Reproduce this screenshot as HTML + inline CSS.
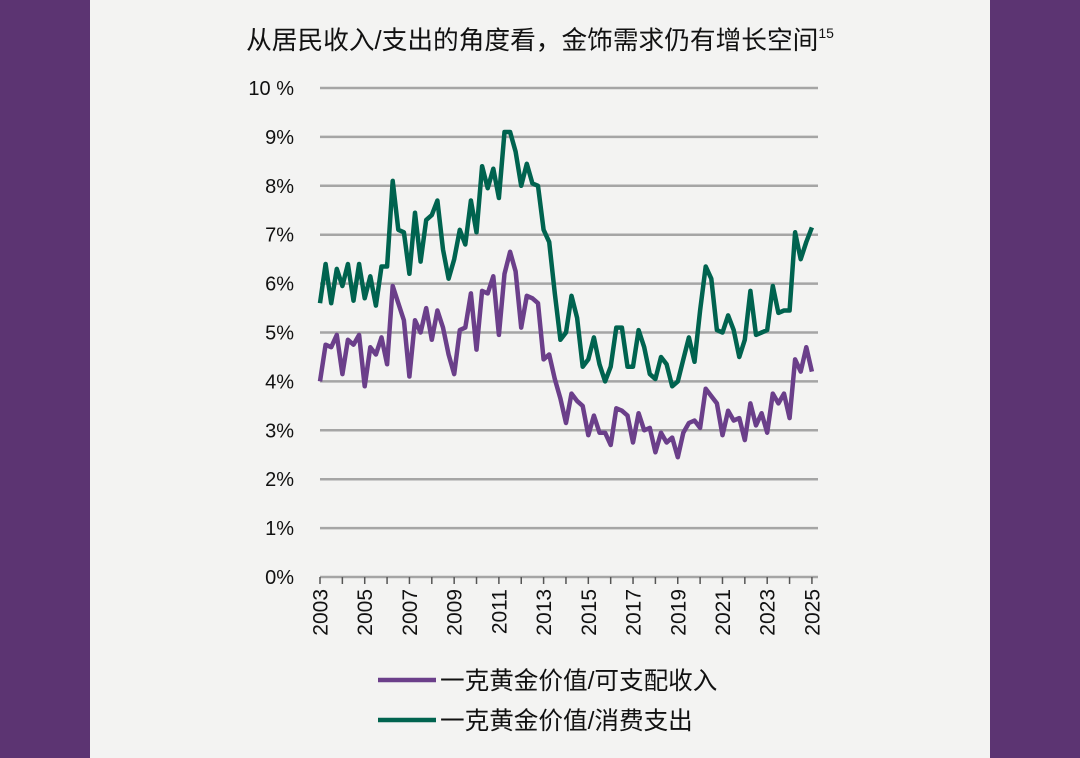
<!DOCTYPE html>
<html><head><meta charset="utf-8"><style>
html,body{margin:0;padding:0;}
body{width:1080px;height:758px;background:#5c3472;position:relative;overflow:hidden;font-family:"Liberation Sans","Noto Sans CJK SC",sans-serif;}
#panel{position:absolute;left:90px;top:0;width:900px;height:758px;background:#f3f3f2;}
</style></head><body>
<div id="panel"></div>
<svg id="chart" width="1080" height="758" style="position:absolute;left:0;top:0">
<text x="540" y="49" text-anchor="middle" font-size="25.7" fill="#111" font-family="Liberation Sans, Noto Sans CJK SC, sans-serif">从居民收入/支出的角度看，金饰需求仍有增长空间<tspan font-size="14" dy="-11">15</tspan></text>
<g id="grid"></g><g id="xaxis"></g><g id="series"></g>
<g>
<line x1="378" y1="680" x2="436" y2="680" stroke="#6b3f8a" stroke-width="4.5"/>
<text x="440" y="689" font-size="24.6" fill="#111">一克黄金价值/可支配收入</text>
<line x1="378" y1="720" x2="436" y2="720" stroke="#00634f" stroke-width="4.5"/>
<text x="440" y="729" font-size="24.6" fill="#111">一克黄金价值/消费支出</text>
</g>
</svg>
<script>
const yTicks=[0,1,2,3,4,5,6,7,8,9,10];
const yTickLabels=["0%","1%","2%","3%","4%","5%","6%","7%","8%","9%","10 %"];
const years=["2003","2005","2007","2009","2011","2013","2015","2017","2019","2021","2023","2025"];
const incomeRatio=[4.0,4.75,4.7,4.95,4.15,4.85,4.75,4.95,3.9,4.7,4.55,4.9,
4.35,5.95,5.6,5.25,4.1,5.25,5.0,5.5,4.85,5.45,5.1,4.55,
4.15,5.05,5.1,5.8,4.65,5.85,5.8,6.15,4.95,6.2,6.65,6.25,
5.1,5.75,5.7,5.6,4.45,4.55,4.05,3.65,3.15,3.75,3.6,3.5,
2.9,3.3,2.95,2.95,2.7,3.45,3.4,3.3,2.75,3.35,3.0,3.05,
2.55,2.95,2.75,2.85,2.45,2.95,3.15,3.2,3.05,3.85,3.7,3.55,
2.9,3.4,3.2,3.25,2.8,3.55,3.1,3.35,2.95,3.75,3.55,3.75,
3.25,4.45,4.2,4.7,4.2];
const spendingRatio=[5.6,6.4,5.6,6.3,5.95,6.4,5.65,6.4,5.7,6.15,5.55,6.35,
6.35,8.1,7.1,7.05,6.2,7.45,6.45,7.3,7.4,7.7,6.7,6.1,
6.5,7.1,6.8,7.7,7.05,8.4,7.95,8.35,7.75,9.1,9.1,8.7,
8.0,8.45,8.05,8.0,7.1,6.85,5.8,4.85,5.0,5.75,5.3,4.3,
4.45,4.9,4.35,4.0,4.3,5.1,5.1,4.3,4.3,5.05,4.7,4.15,
4.05,4.5,4.35,3.9,4.0,4.45,4.9,4.4,5.45,6.35,6.1,5.05,
5.0,5.35,5.05,4.5,4.85,5.85,4.95,5.0,5.05,5.95,5.4,5.45,
5.45,7.05,6.5,6.85,7.15];
const NS="http://www.w3.org/2000/svg";
const x0=320,x1=818,xYear=22.36;
function xPos(i){return x0+i*xYear/4;}
function yPos(v){return 577-v*48.9;}
function mk(tag,attrs,parent){const e=document.createElementNS(NS,tag);for(const k in attrs)e.setAttribute(k,attrs[k]);parent.appendChild(e);return e;}
const grid=document.getElementById('grid');
yTicks.forEach((t,i)=>{
 const l=mk('line',{x1:x0,x2:x1,y1:yPos(t),y2:yPos(t),stroke:'#a5a5a5','stroke-width':2.5},grid);
 
 
 const tx=mk('text',{x:294,y:yPos(t)+7,'text-anchor':'end','font-size':20,fill:'#111'},grid);
 tx.textContent=yTickLabels[i];
 
 
});
const xa=document.getElementById('xaxis');
for(let y=0;y<=22;y++){
 const l=mk('line',{x1:x0+y*xYear,x2:x0+y*xYear,y1:577,y2:584,stroke:'#555','stroke-width':1.5},xa);
 
 
}
years.forEach((yr,i)=>{
 const x=x0+(parseInt(yr)-2003)*xYear;
 const t=mk('text',{x:0,y:0,transform:`translate(${x+7.5},589) rotate(-90)`,'text-anchor':'end','font-size':21,fill:'#111'},xa);
 t.textContent=yr;
 
 
});
const sg=document.getElementById('series');
function line(data,color,name){
 const d=data.map((v,i)=>(i?'L':'M')+xPos(i).toFixed(1)+','+yPos(v).toFixed(1)).join('');
 const p=mk('path',{d:d,fill:'none',stroke:color,'stroke-width':4.5,'stroke-linejoin':'round'},sg);
 
 
}
line(incomeRatio,'#6b3f8a','income-ratio-line');
line(spendingRatio,'#00634f','spending-ratio-line');
</script>
</body></html>
